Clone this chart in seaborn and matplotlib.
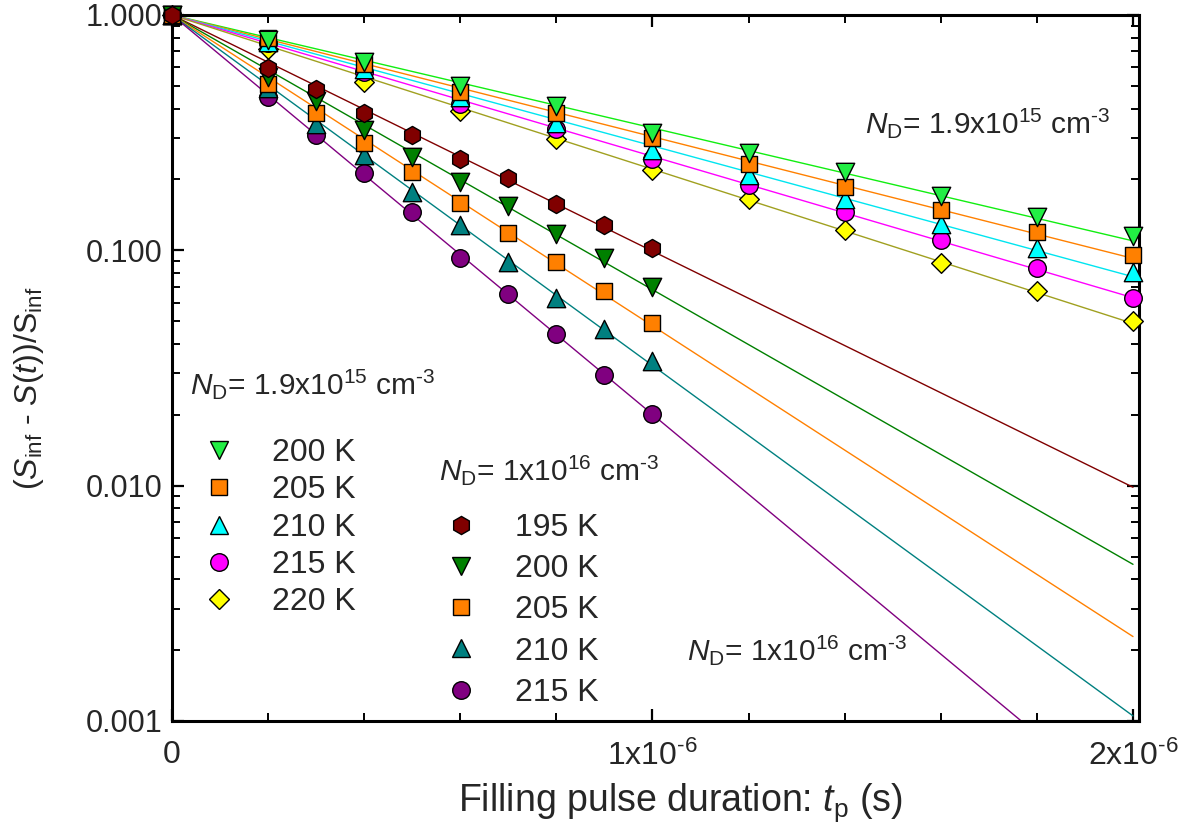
import numpy as np
import pandas as pd
import matplotlib
matplotlib.use("Agg")
import matplotlib.pyplot as plt
from matplotlib.ticker import MultipleLocator, LogLocator, NullFormatter
from matplotlib.lines import Line2D
import seaborn as sns

# Filling pulse durations (microseconds)
t_low = [0.0, 0.2, 0.4, 0.6, 0.8, 1.0, 1.2, 1.4, 1.6, 1.8, 2.0]
t_high = [0.0, 0.2, 0.3, 0.4, 0.5, 0.6, 0.7, 0.8, 0.9, 1.0]

# N_D = 1.9e15 cm^-3
temps_low = ["200 K", "205 K", "210 K", "215 K", "220 K"]
low_200 = [1.0, 0.78, 0.63, 0.50, 0.41, 0.315, 0.259, 0.215, 0.17, 0.138, 0.115]
low_205 = [1.0, 0.80, 0.62, 0.47, 0.383, 0.30, 0.232, 0.185, 0.148, 0.12, 0.096]
low_210 = [1.0, 0.77, 0.59, 0.45, 0.347, 0.266, 0.209, 0.166, 0.129, 0.102, 0.081]
low_215 = [1.0, 0.76, 0.57, 0.42, 0.327, 0.245, 0.189, 0.146, 0.111, 0.084, 0.063]
low_220 = [1.0, 0.72, 0.52, 0.39, 0.296, 0.219, 0.165, 0.122, 0.088, 0.067, 0.05]

# N_D = 1e16 cm^-3
temps_high = ["195 K", "200 K", "205 K", "210 K", "215 K"]
high_195 = [1.0, 0.595, 0.484, 0.383, 0.31, 0.244, 0.202, 0.157, 0.128, 0.102]
high_200 = [1.0, 0.545, 0.43, 0.324, 0.249, 0.195, 0.155, 0.117, 0.093, 0.070]
high_205 = [1.0, 0.51, 0.383, 0.285, 0.215, 0.159, 0.118, 0.089, 0.067, 0.049]
high_210 = [1.0, 0.49, 0.344, 0.254, 0.177, 0.128, 0.089, 0.063, 0.0465, 0.0337]
high_215 = [1.0, 0.45, 0.31, 0.213, 0.145, 0.093, 0.065, 0.044, 0.0296, 0.0201]

y_tick_values = [0.001, 0.01, 0.1, 1.0]
y_tick_labels = ["0.001", "0.010", "0.100", "1.000"]
x_tick_values = [0.0, 1e-6, 2e-6]
x_tick_labels = ["0", "1x10$^{\\text{-}6}$", "2x10$^{\\text{-}6}$"]

# styles: (marker, face colour, fit-line colour, marker area)
low_styles = [
    ("v", "#22EE44", "#11EE11", 175),
    ("s", "#FF8000", "#FF8000", 140),
    ("^", "#00FFFF", "#00E5F0", 175),
    ("o", "#FF00FF", "#FF00FF", 160),
    ("D", "#FFFF00", "#A0A020", 100),
]
high_styles = [
    ("h", "#800000", "#800000", 170),
    ("v", "#008000", "#008000", 175),
    ("s", "#FF8000", "#FF8000", 140),
    ("^", "#008080", "#008080", 175),
    ("o", "#800080", "#800080", 160),
]

sns.set_style("ticks")
plt.rcParams["font.family"] = ["Liberation Sans", "DejaVu Sans"]
plt.rcParams["mathtext.fontset"] = "custom"
plt.rcParams["mathtext.rm"] = "Liberation Sans"
plt.rcParams["mathtext.it"] = "Liberation Sans:italic"
plt.rcParams["mathtext.default"] = "regular"
plt.rcParams["axes.unicode_minus"] = False

W, H = 1184, 836
fig = plt.figure(figsize=(W / 100, H / 100), dpi=100)
L, R, T, B = 172, 1139, 15, 721
ax = fig.add_axes([L / W, (H - B) / H, (R - L) / W, (B - T) / H])


def fx(px):
    return (px - L) / (R - L)


def fy(py):
    return (B - py) / (B - T)


def fit_line(t_us, vals):
    # exponential decay fitted through (0, 1)
    x = np.asarray(t_us)
    ly = np.log(np.asarray(vals))
    k = np.sum(x * ly) / np.sum(x * x)
    grid = np.linspace(0.0, 2.0, 200)
    return grid * 1e-6, np.exp(k * grid)


low_series = [(t_low, v, s) for v, s in
              zip([low_200, low_205, low_210, low_215, low_220], low_styles)]
high_series = [(t_high, v, s) for v, s in
               zip([high_195, high_200, high_205, high_210, high_215], high_styles)]

for t, vals, (mk, fc, lc, area) in low_series + high_series:
    gx, gy = fit_line(t, vals)
    sns.lineplot(x=gx, y=gy, color=lc, lw=1.0, ax=ax, zorder=2, estimator=None, sort=False)

for t, vals, (mk, fc, lc, area) in list(reversed(low_series)) + list(reversed(high_series)):
    df = pd.DataFrame({"t": np.asarray(t) * 1e-6, "v": vals})
    sns.scatterplot(data=df, x="t", y="v", marker=mk, s=area, color=fc,
                    edgecolor="black", linewidth=1.0, ax=ax, zorder=3, clip_on=False)

ax.set_yscale("log")
ax.set_xlim(0, 2.0125e-6)
ax.set_ylim(0.001, 1.0)

ax.set_yticks(y_tick_values)
ax.set_yticklabels(y_tick_labels)
ax.yaxis.set_minor_locator(LogLocator(base=10, subs=np.arange(2, 10)))
ax.yaxis.set_minor_formatter(NullFormatter())
ax.set_xticks(x_tick_values)
ax.set_xticklabels(x_tick_labels, fontsize=23)
ax.xaxis.set_minor_locator(MultipleLocator(0.2e-6))

for sp in ax.spines.values():
    sp.set_linewidth(2.2)
    sp.set_color("black")
ax.tick_params(which="both", direction="in", top=True, right=True, color="black")
ax.tick_params(which="major", length=8.5, width=1.6)
ax.tick_params(which="minor", length=6, width=1.4)
ax.tick_params(axis="y", labelsize=22, pad=7)
ax.tick_params(axis="x", pad=14)
ax.grid(False)

ax.set_xlabel("Filling pulse duration: $\\mathit{t}_{p}$ (s)", fontsize=27)
ax.xaxis.set_label_coords(fx(680), -0.085)
ax.set_ylabel("($\\mathit{S}_{inf}$ - $\\mathit{S}$($\\mathit{t}$))/S$_{inf}$", fontsize=23)
ax.yaxis.set_label_coords(fx(46), fy(388))

heading_hi = "$\\mathit{N}_{D}$= 1x10$^{16}$ cm$^{\\text{-}3}$"
heading_lo = "$\\mathit{N}_{D}$= 1.9x10$^{15}$ cm$^{\\text{-}3}$"
ax.text(fx(865), fy(133), heading_lo, transform=ax.transAxes, fontsize=21.5, va="baseline")
ax.text(fx(190), fy(394), heading_lo, transform=ax.transAxes, fontsize=21.5, va="baseline")
ax.text(fx(439), fy(480), heading_hi, transform=ax.transAxes, fontsize=21.5, va="baseline")
ax.text(fx(687), fy(660), heading_hi, transform=ax.transAxes, fontsize=21.5, va="baseline")


def handles(styles):
    out = []
    for mk, fc, lc, area in styles:
        out.append(Line2D([], [], marker=mk, linestyle="none", markersize=np.sqrt(area),
                          markerfacecolor=fc, markeredgecolor="black", markeredgewidth=1.0))
    return out


leg1 = ax.legend(handles(low_styles), temps_low, loc="upper left",
                 bbox_to_anchor=(fx(203), fy(438)), frameon=False, fontsize=23,
                 borderpad=0, borderaxespad=0, handlelength=1.0, handletextpad=1.16,
                 labelspacing=0.23)
ax.add_artist(leg1)
ax.legend(handles(high_styles), temps_high, loc="upper left",
          bbox_to_anchor=(fx(445), fy(513)), frameon=False, fontsize=23,
          borderpad=0, borderaxespad=0, handlelength=1.0, handletextpad=1.19,
          labelspacing=0.35)

fig.savefig("out.png", dpi=100)
